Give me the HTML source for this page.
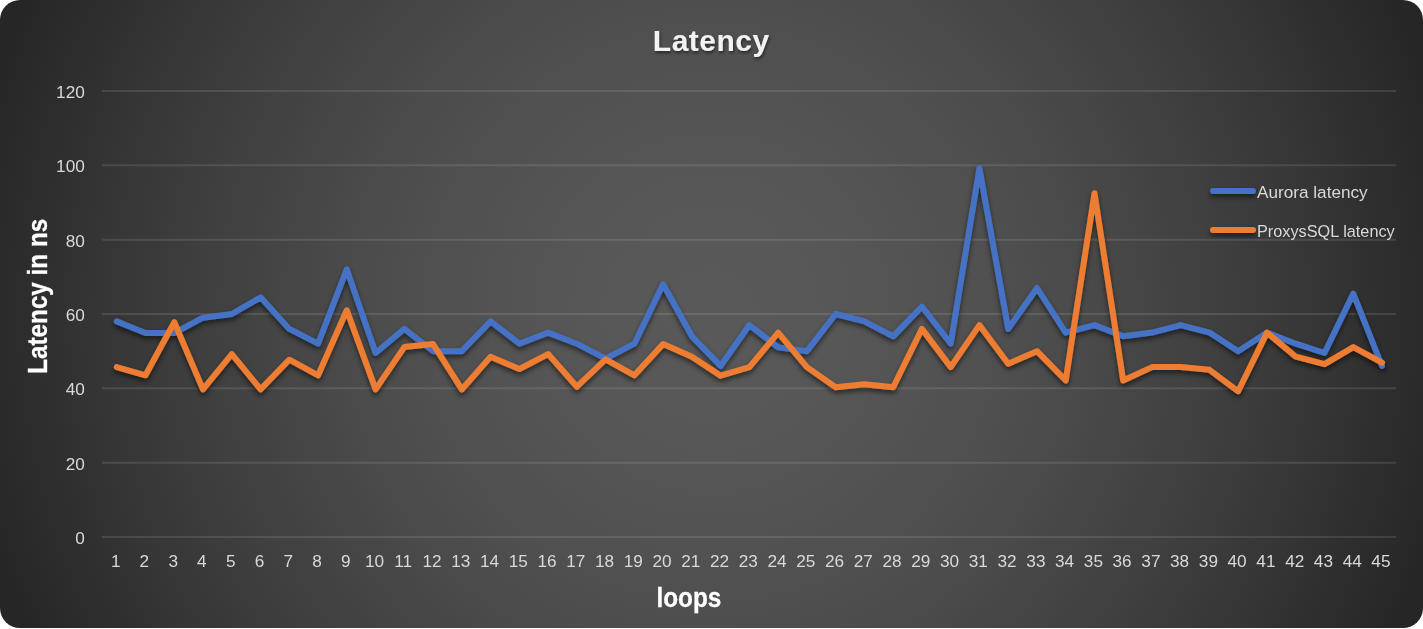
<!DOCTYPE html>
<html lang="en">
<head>
<meta charset="utf-8">
<title>Latency</title>
<style>
html,body{margin:0;padding:0;background:#fff;}
body{width:1423px;height:629px;overflow:hidden;position:relative;font-family:"Liberation Sans",sans-serif;}
#chart{position:absolute;left:0;top:0;width:1423px;height:627.5px;border-radius:20px;
background:radial-gradient(circle 750px at 711.5px 313.75px, #595959 0.00%, #595959 4.17%, #585858 8.33%, #585858 12.50%, #575757 16.67%, #565656 20.83%, #545454 25.00%, #535353 29.17%, #515151 33.33%, #505050 37.50%, #4e4e4e 41.67%, #4c4c4c 45.83%, #4a4a4a 50.00%, #474747 54.17%, #454545 58.33%, #424242 62.50%, #404040 66.67%, #3d3d3d 70.83%, #3a3a3a 75.00%, #373737 79.17%, #343434 83.33%, #303030 87.50%, #2d2d2d 91.67%, #2a2a2a 95.83%, #262626 100.00%);}
svg{position:absolute;left:0;top:0;will-change:transform;}
svg text{font-family:"Liberation Sans",sans-serif;}
.grid line{stroke:#fff;stroke-opacity:.11;stroke-width:2;}
.ax text{fill:#d9d9d9;font-size:17.2px;}
.series path{fill:none;stroke-width:6;stroke-linecap:round;stroke-linejoin:round;}
</style>
</head>
<body>
<div id="chart"></div>
<svg width="1423" height="629" viewBox="0 0 1423 629">
<defs>
<filter id="sh" filterUnits="userSpaceOnUse" x="0" y="0" width="1423" height="629">
<feGaussianBlur in="SourceAlpha" stdDeviation="2.4"/>
<feOffset dx="0" dy="3" result="o"/>
<feComponentTransfer><feFuncA type="linear" slope="0.55"/></feComponentTransfer>
<feMerge><feMergeNode/><feMergeNode in="SourceGraphic"/></feMerge>
</filter>
<filter id="tsh" filterUnits="userSpaceOnUse" x="600" y="0" width="230" height="90">
<feGaussianBlur in="SourceAlpha" stdDeviation="1.5"/>
<feOffset dx="1" dy="2" result="o"/>
<feComponentTransfer><feFuncA type="linear" slope="0.5"/></feComponentTransfer>
<feMerge><feMergeNode/><feMergeNode in="SourceGraphic"/></feMerge>
</filter>
</defs>
<g class="grid">
<line x1="102.0" x2="1396.0" y1="537.0" y2="537.0"/>
<line x1="102.0" x2="1396.0" y1="462.7" y2="462.7"/>
<line x1="102.0" x2="1396.0" y1="388.3" y2="388.3"/>
<line x1="102.0" x2="1396.0" y1="314.0" y2="314.0"/>
<line x1="102.0" x2="1396.0" y1="239.7" y2="239.7"/>
<line x1="102.0" x2="1396.0" y1="165.3" y2="165.3"/>
<line x1="102.0" x2="1396.0" y1="91.0" y2="91.0"/>
</g>
<g class="ax">
<text x="84.8" y="544.0" text-anchor="end">0</text>
<text x="84.8" y="469.7" text-anchor="end">20</text>
<text x="84.8" y="395.3" text-anchor="end">40</text>
<text x="84.8" y="321.0" text-anchor="end">60</text>
<text x="84.8" y="246.7" text-anchor="end">80</text>
<text x="84.8" y="172.3" text-anchor="end">100</text>
<text x="84.8" y="98.0" text-anchor="end">120</text>
<text x="115.7" y="567" text-anchor="middle">1</text>
<text x="144.4" y="567" text-anchor="middle">2</text>
<text x="173.2" y="567" text-anchor="middle">3</text>
<text x="201.9" y="567" text-anchor="middle">4</text>
<text x="230.7" y="567" text-anchor="middle">5</text>
<text x="259.5" y="567" text-anchor="middle">6</text>
<text x="288.2" y="567" text-anchor="middle">7</text>
<text x="317.0" y="567" text-anchor="middle">8</text>
<text x="345.7" y="567" text-anchor="middle">9</text>
<text x="374.5" y="567" text-anchor="middle">10</text>
<text x="403.2" y="567" text-anchor="middle">11</text>
<text x="432.0" y="567" text-anchor="middle">12</text>
<text x="460.7" y="567" text-anchor="middle">13</text>
<text x="489.5" y="567" text-anchor="middle">14</text>
<text x="518.3" y="567" text-anchor="middle">15</text>
<text x="547.0" y="567" text-anchor="middle">16</text>
<text x="575.8" y="567" text-anchor="middle">17</text>
<text x="604.5" y="567" text-anchor="middle">18</text>
<text x="633.3" y="567" text-anchor="middle">19</text>
<text x="662.0" y="567" text-anchor="middle">20</text>
<text x="690.8" y="567" text-anchor="middle">21</text>
<text x="719.5" y="567" text-anchor="middle">22</text>
<text x="748.3" y="567" text-anchor="middle">23</text>
<text x="777.1" y="567" text-anchor="middle">24</text>
<text x="805.8" y="567" text-anchor="middle">25</text>
<text x="834.6" y="567" text-anchor="middle">26</text>
<text x="863.3" y="567" text-anchor="middle">27</text>
<text x="892.1" y="567" text-anchor="middle">28</text>
<text x="920.8" y="567" text-anchor="middle">29</text>
<text x="949.6" y="567" text-anchor="middle">30</text>
<text x="978.3" y="567" text-anchor="middle">31</text>
<text x="1007.1" y="567" text-anchor="middle">32</text>
<text x="1035.9" y="567" text-anchor="middle">33</text>
<text x="1064.6" y="567" text-anchor="middle">34</text>
<text x="1093.4" y="567" text-anchor="middle">35</text>
<text x="1122.1" y="567" text-anchor="middle">36</text>
<text x="1150.9" y="567" text-anchor="middle">37</text>
<text x="1179.6" y="567" text-anchor="middle">38</text>
<text x="1208.4" y="567" text-anchor="middle">39</text>
<text x="1237.1" y="567" text-anchor="middle">40</text>
<text x="1265.9" y="567" text-anchor="middle">41</text>
<text x="1294.7" y="567" text-anchor="middle">42</text>
<text x="1323.4" y="567" text-anchor="middle">43</text>
<text x="1352.2" y="567" text-anchor="middle">44</text>
<text x="1380.9" y="567" text-anchor="middle">45</text>
</g>
<g class="series" filter="url(#sh)">
<path d="M116.8,321.4 L145.5,333.0 L174.3,333.0 L203.0,317.7 L231.8,314.0 L260.6,297.3 L289.3,328.9 L318.1,343.7 L346.8,269.4 L375.6,353.0 L404.3,328.9 L433.1,351.2 L461.8,351.2 L490.6,321.4 L519.4,343.7 L548.1,332.6 L576.9,343.7 L605.6,358.6 L634.4,343.7 L663.1,284.3 L691.9,336.3 L720.6,366.0 L749.4,325.1 L778.2,347.4 L806.9,351.2 L835.7,314.0 L864.4,321.4 L893.2,336.3 L921.9,306.6 L950.7,343.7 L979.4,168.3 L1008.2,328.9 L1037.0,288.0 L1065.7,332.6 L1094.5,325.1 L1123.2,336.3 L1152.0,332.6 L1180.7,325.1 L1209.5,332.6 L1238.2,351.2 L1267.0,332.6 L1295.8,343.7 L1324.5,353.0 L1353.3,293.6 L1382.0,366.0" stroke="#4472c4"/>
<path d="M116.8,367.1 L145.5,375.3 L174.3,322.2 L203.0,389.4 L231.8,354.1 L260.6,389.4 L289.3,359.7 L318.1,375.3 L346.8,310.3 L375.6,389.4 L404.3,347.1 L433.1,344.1 L461.8,389.4 L490.6,356.7 L519.4,369.0 L548.1,354.1 L576.9,386.7 L605.6,359.3 L634.4,375.3 L663.1,344.1 L691.9,356.7 L720.6,375.7 L749.4,367.1 L778.2,332.6 L806.9,367.1 L835.7,387.2 L864.4,384.2 L893.2,387.2 L921.9,328.9 L950.7,367.1 L979.4,325.1 L1008.2,363.8 L1037.0,351.2 L1065.7,380.5 L1094.5,193.2 L1123.2,380.5 L1152.0,367.1 L1180.7,367.1 L1209.5,369.8 L1238.2,391.3 L1267.0,332.6 L1295.8,356.7 L1324.5,364.2 L1353.3,347.1 L1382.0,362.7" stroke="#ed7d31"/>
</g>
<g class="legend">
<g filter="url(#sh)">
<line x1="1213" x2="1253" y1="191" y2="191" stroke="#4472c4" stroke-width="6" stroke-linecap="round"/>
<line x1="1213" x2="1253" y1="230" y2="230" stroke="#ed7d31" stroke-width="6" stroke-linecap="round"/>
</g>
<g class="ax">
<text x="1257" y="197.8" textLength="110.7" lengthAdjust="spacingAndGlyphs">Aurora latency</text>
<text x="1257" y="236.8" textLength="137.7" lengthAdjust="spacingAndGlyphs">ProxysSQL latency</text>
</g>
</g>
<text x="652.8" y="51" font-size="30" font-weight="bold" fill="#f2f2f2" textLength="116.4" lengthAdjust="spacing" filter="url(#tsh)">Latency</text>
<text x="656.4" y="607" font-size="27" font-weight="bold" fill="#fff" stroke="#fff" stroke-width="0.3" textLength="64.9" lengthAdjust="spacingAndGlyphs">loops</text>
<text transform="translate(46.7,373.8) rotate(-90)" font-size="27.6" font-weight="bold" fill="#fff" stroke="#fff" stroke-width="0.3" textLength="155" lengthAdjust="spacingAndGlyphs">Latency in ns</text>
</svg>
</body>
</html>
